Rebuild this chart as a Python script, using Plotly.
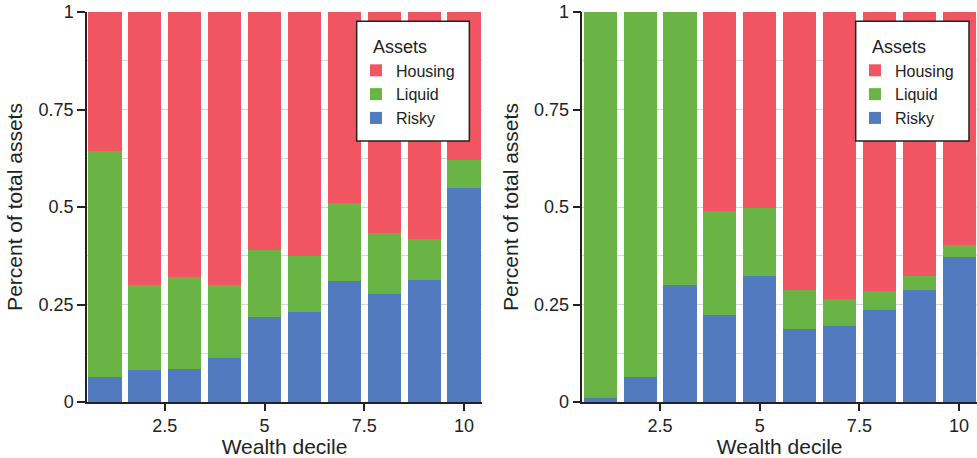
import plotly.graph_objects as go

deciles = [1, 2, 3, 4, 5, 6, 7, 8, 9, 10]
tick_vals = [2.5, 5, 7.5, 10]
tick_text = ["2.5", "5", "7.5", "10"]
y_tick_vals = [0, 0.25, 0.5, 0.75, 1]
y_tick_text = ["0", "0.25", "0.5", "0.75", "1"]

# Left panel shares
left_risky = [0.063, 0.081, 0.085, 0.114, 0.219, 0.230, 0.309, 0.278, 0.314, 0.549]
left_liquid = [0.580, 0.219, 0.236, 0.185, 0.172, 0.145, 0.202, 0.155, 0.104, 0.072]
left_housing = [0.357, 0.700, 0.679, 0.701, 0.609, 0.625, 0.489, 0.567, 0.582, 0.379]

# Right panel shares
right_risky = [0.009, 0.065, 0.299, 0.224, 0.324, 0.186, 0.194, 0.237, 0.286, 0.373]
right_liquid = [0.991, 0.935, 0.701, 0.266, 0.174, 0.102, 0.071, 0.048, 0.038, 0.030]
right_housing = [0.000, 0.000, 0.000, 0.510, 0.502, 0.712, 0.735, 0.715, 0.676, 0.597]

names = ["Risky", "Liquid", "Housing"]
colors = {"Risky": "#527ABE", "Liquid": "#6AB446", "Housing": "#F05561"}

FONT = "Liberation Sans, Arial, Helvetica, sans-serif"
TXT = "#222222"

fig = go.Figure()
panels = [
    ("x", "y", "legend", [left_risky, left_liquid, left_housing]),
    ("x2", "y2", "legend2", [right_risky, right_liquid, right_housing]),
]
for xa, ya, lg, series in panels:
    for name, vals in zip(names, series):
        fig.add_trace(go.Bar(
            x=deciles, y=vals, name=name, xaxis=xa, yaxis=ya, legend=lg,
            marker=dict(color=colors[name], line=dict(width=0)),
            width=0.83,
        ))

axis_common_x = dict(
    range=[0.55, 10.45], tickmode="array", tickvals=tick_vals, ticktext=tick_text,
    showline=True, linecolor="#222222", linewidth=1.5, ticks="outside", ticklen=7,
    tickwidth=1.5, tickcolor="#222222", showgrid=False, zeroline=False,
    tickfont=dict(size=18, color=TXT, family=FONT),
    title=dict(text="Wealth decile", font=dict(size=21, color=TXT, family=FONT), standoff=6),
)
axis_common_y = dict(
    range=[0, 1], tickmode="array", tickvals=y_tick_vals, ticktext=y_tick_text,
    showline=True, linecolor="#222222", linewidth=1.5, ticks="outside", ticklen=8,
    tickwidth=1.5, tickcolor="#222222", showgrid=True, gridcolor="#d6d6d6", gridwidth=1.2,
    zeroline=False,
    minor=dict(dtick=0.125, tick0=0, showgrid=True, gridcolor="#d6d6d6", gridwidth=1.2, ticks=""),
    tickfont=dict(size=18, color=TXT, family=FONT),
    title=dict(text="Percent of total assets", font=dict(size=21, color=TXT, family=FONT), standoff=10),
)

legend_common = dict(
    title=dict(text="&nbsp;&nbsp;&nbsp;Assets", font=dict(size=18, color=TXT, family=FONT)),
    font=dict(size=16, color=TXT, family=FONT),
    bgcolor="rgba(0,0,0,0)", borderwidth=0,
    traceorder="reversed", xanchor="left", yanchor="top",
    tracegroupgap=0, itemwidth=30,
)

# legend frames (white boxes with dark border)
legend_boxes = [(0.3030, 0.4296), (0.8637, 0.9910)]
shapes = [
    dict(type="rect", xref="paper", yref="paper", x0=a, x1=b, y0=0.6692, y1=0.9762,
         fillcolor="white", line=dict(color="#222222", width=1.5), layer="above")
    for a, b in legend_boxes
]

fig.update_layout(
    width=977, height=458,
    margin=dict(l=87, r=0, t=12, b=56),
    paper_bgcolor="white", plot_bgcolor="white",
    barmode="stack", bargap=0.17,
    showlegend=True,
    xaxis=dict(domain=[0, 0.4438], anchor="y", **axis_common_x),
    yaxis=dict(domain=[0, 1], anchor="x", **axis_common_y),
    xaxis2=dict(domain=[0.5565, 1], anchor="y2", **axis_common_x),
    yaxis2=dict(domain=[0, 1], anchor="x2", **axis_common_y),
    legend=dict(x=0.3022, y=0.9538, **legend_common),
    legend2=dict(x=0.8629, y=0.9538, **legend_common),
    shapes=shapes,
    font=dict(family=FONT, color=TXT),
)

fig.write_html(
    "out.html",
    config={"displayModeBar": False},
    post_script="document.body.style.margin='0';document.body.style.overflow='hidden';",
)
